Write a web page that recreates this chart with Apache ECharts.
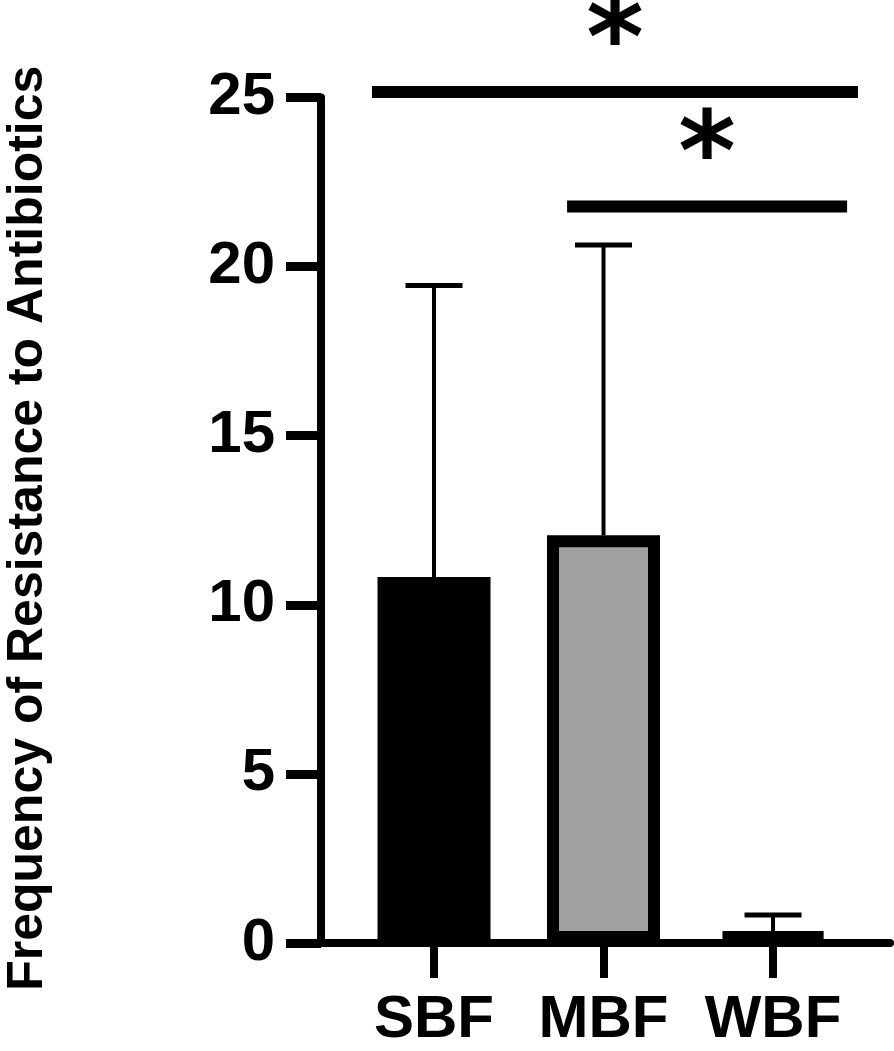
<!DOCTYPE html>
<html>
<head>
<meta charset="utf-8">
<title>Frequency of Resistance to Antibiotics</title>
<script src="https://cdn.jsdelivr.net/npm/echarts@6/dist/echarts.min.js"></script>
<style>
html, body{
  margin:0;
  padding:0;
  background-color:#fff;
}
#chart{
  width:894px;
  height:1051px;
}
</style>
</head>
<body>
<div id="chart"></div>
<script>
// groups and their places on the x axis
var groups = ['SBF', 'MBF', 'WBF'];
var groupPos = [1, 2, 3];
// bar means and upper error (SD)
var means = [10.82, 12.06, 0.35];
var sdUpper = [8.62, 8.58, 0.48];
var barColors = ['#000000', '#a0a0a0', '#000000'];
// y ticks
var yTicks = [0, 5, 10, 15, 20, 25];
// significance brackets
var sigFrom = [0.634, 1.785];
var sigTo = [3.501, 3.437];
var sigY = [25.16, 21.78];
var sigMark = ['*', '*'];

(function(){
	"use strict";

	var font = '"Liberation Sans", Arial, sans-serif';
	var chart;

	var init = function(){
		chart = echarts.init(document.getElementById('chart'), null, {renderer: 'canvas'});
		chart.setOption(buildOption());
	},
	buildOption = function(){
		var barData = groups.map(function(g, i){
			return {
				value: [groupPos[i], means[i]],
				itemStyle: {color: barColors[i]}
			};
		});
		var errData = groups.map(function(g, i){
			return [groupPos[i], means[i], means[i] + sdUpper[i]];
		});
		var sigData = sigFrom.map(function(f, i){
			return [f, sigTo[i], sigY[i]];
		});

		return {
			animation: false,
			backgroundColor: '#fff',
			grid: {left: 321, right: 4, top: 97.5, bottom: 108, containLabel: false, outerBoundsMode: 'none'},
			xAxis: {
				type: 'value',
				min: 1 / 3,
				max: 3.69,
				splitLine: {show: false},
				axisLine: {show: true, lineStyle: {color: '#000', width: 8}},
				axisTick: {show: true, customValues: groupPos, length: 35, lineStyle: {color: '#000', width: 8}},
				axisLabel: {
					customValues: groupPos,
					margin: 47,
					color: '#000',
					fontFamily: font,
					fontWeight: 'bold',
					fontSize: 60,
					formatter: function(v){
						var i = groupPos.indexOf(Math.round(v));
						return i < 0 ? '' : groups[i];
					}
				},
				z: 5
			},
			yAxis: {
				type: 'value',
				min: yTicks[0],
				max: yTicks[yTicks.length - 1],
				interval: 5,
				name: 'Frequency of Resistance to Antibiotics',
				nameLocation: 'middle',
				nameGap: 268,
				nameTextStyle: {color: '#000', fontFamily: font, fontWeight: 'bold', fontSize: 50, padding: [0, 16, 0, 0]},
				splitLine: {show: false},
				axisLine: {show: true, lineStyle: {color: '#000', width: 8}},
				axisTick: {show: true, length: 35, lineStyle: {color: '#000', width: 9}},
				axisLabel: {margin: 46, color: '#000', fontFamily: font, fontWeight: 'bold', fontSize: 60},
				z: 5
			},
			series: [
				{
					type: 'bar',
					barWidth: 113,
					data: barData,
					itemStyle: {borderColor: '#000', borderWidth: 12},
					z: 2
				},
				{
					type: 'custom',
					data: errData,
					encode: {x: 0, y: [1, 2]},
					z: 3,
					renderItem: function(params, api){
						var x = api.value(0);
						var base = api.coord([x, api.value(1)]);
						var top = api.coord([x, api.value(2)]);
						return {
							type: 'group',
							children: [
								{type: 'line', shape: {x1: top[0], y1: base[1], x2: top[0], y2: top[1]}, style: {stroke: '#000', lineWidth: 4}},
								{type: 'line', shape: {x1: top[0] - 28.5, y1: top[1], x2: top[0] + 28.5, y2: top[1]}, style: {stroke: '#000', lineWidth: 5}}
							]
						};
					}
				},
				{
					type: 'custom',
					data: sigData,
					encode: {x: [0, 1], y: 2},
					clip: false,
					z: 4,
					renderItem: function(params, api){
						var p1 = api.coord([api.value(0), api.value(2)]);
						var p2 = api.coord([api.value(1), api.value(2)]);
						return {
							type: 'group',
							children: [
								{type: 'line', shape: {x1: p1[0], y1: p1[1], x2: p2[0], y2: p2[1]}, style: {stroke: '#000', lineWidth: 12}},
								{type: 'text', x: (p1[0] + p2[0]) / 2, y: p1[1] - 45, style: {
									text: sigMark[params.dataIndex], fill: '#000',
									font: 'bold 110px "DejaVu Sans", sans-serif', align: 'center', verticalAlign: 'middle'
								}}
							]
						};
					}
				}
			]
		};
	};

	init();
})();
</script>
</body>
</html>
